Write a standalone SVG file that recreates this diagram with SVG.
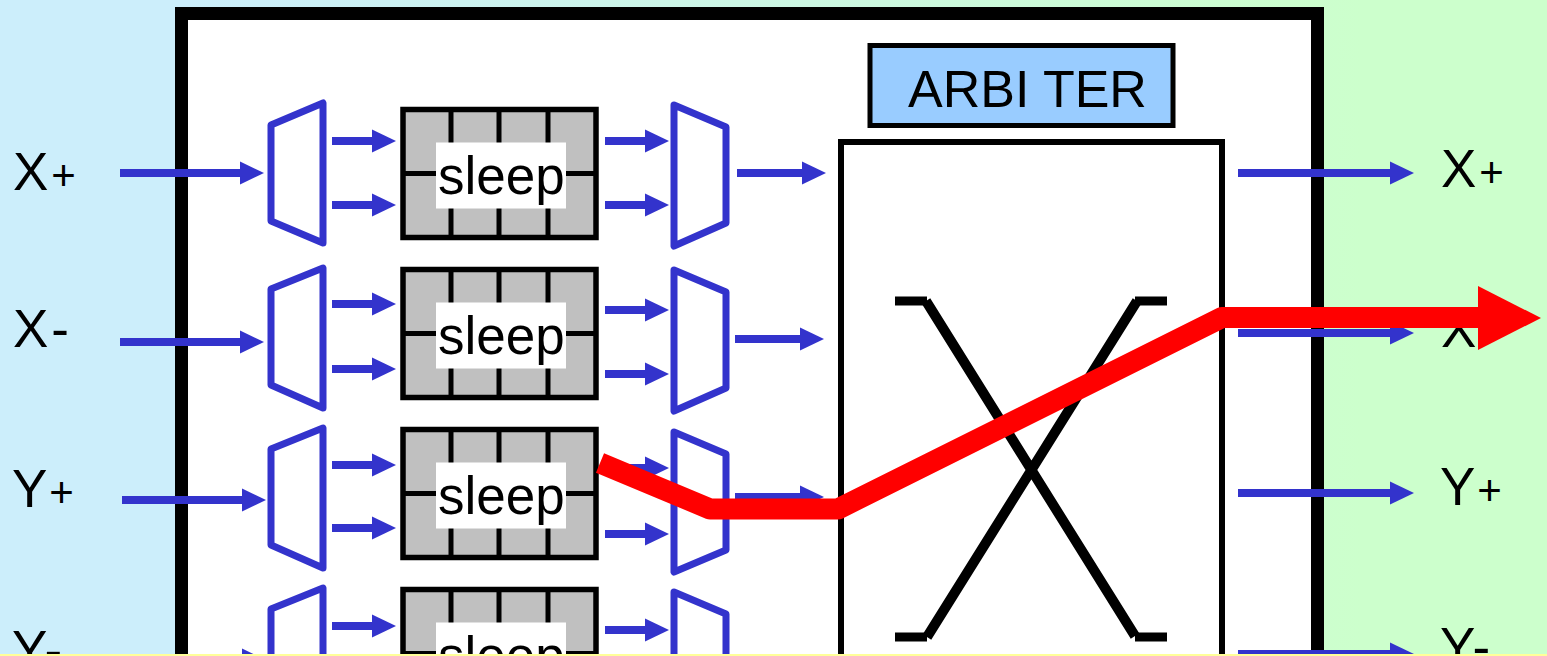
<svg xmlns="http://www.w3.org/2000/svg" width="1547" height="656" viewBox="0 0 1547 656">
<style>
text{font-family:"Liberation Sans",Arial,sans-serif;font-size:53px;fill:#000}
.sub{font-size:42px}
.mux{fill:#fff;stroke:#3333cc;stroke-width:7;stroke-linejoin:round}
.cell{fill:#c0c0c0;stroke:#000;stroke-width:5.5}
.div{stroke:#000;stroke-width:5;fill:none}
.blank{fill:#fff;stroke:none}
.arr{stroke:#3333cc;stroke-width:8;fill:none;marker-end:url(#bh)}
.x{stroke:#000;stroke-width:10;fill:none}
.stub{stroke:#000;stroke-width:9;fill:none}
</style>
<defs>
<linearGradient id="bg" x1="0" x2="1" y1="0" y2="0"><stop offset="0" stop-color="#cceefb"/><stop offset="0.12" stop-color="#cceefb"/><stop offset="0.88" stop-color="#ccffcc"/><stop offset="1" stop-color="#ccffcc"/></linearGradient>
<marker id="bh" markerUnits="userSpaceOnUse" markerWidth="24" markerHeight="24" refX="0" refY="12" orient="auto"><path d="M0 0.500L24 12L0 23.500Z" fill="#3333cc"/></marker>
<g id="buf">
<rect class="cell" x="403" y="0" width="193" height="128"/>
<path class="div" d="M451 0V128M499 0V128M548 0V128M403 64H596"/>
<rect class="blank" x="436" y="33" width="130" height="66"/>
<text x="438" y="84">sleep</text>
</g>
</defs>
<rect width="1547" height="656" fill="url(#bg)"/>
<rect id="frame" x="181.500" y="13.500" width="1136" height="700" fill="#fff" stroke="#000" stroke-width="13"/>

<g id="arbiter"><rect x="870" y="45.500" width="303" height="80" fill="#99ccff" stroke="#000" stroke-width="5"/><text x="908" y="107" style="font-size:52px">ARBI TER</text></g>
<g id="crossbar">
<rect x="841" y="142" width="381" height="560" fill="#fff" stroke="#000" stroke-width="6"/>
<path class="x" d="M926 301L1135 636M1137 301L927 637"/>
<path class="stub" d="M895 301H927M1135 301H1167M895 637H927M1135 637H1167"/>
</g>

<g id="buffer-xp"><use href="#buf" y="109.500"/></g>
<g id="buffer-xm"><use href="#buf" y="269.500"/></g>
<g id="buffer-yp"><use href="#buf" y="429.500"/></g>
<g id="buffer-ym"><use href="#buf" y="589.500"/></g>

<g id="demux-xp"><path class="mux" d="M271 125L323 103V243L271 221Z"/></g>
<g id="demux-xm"><path class="mux" d="M271 289L323 268V408L271 385Z"/></g>
<g id="demux-yp"><path class="mux" d="M271 449L323 428V568L271 545Z"/></g>
<g id="demux-ym"><path class="mux" d="M271 609L323 588V728L271 705Z"/></g>
<g id="mux-xp"><path class="mux" d="M674 105L726 127V223L674 246Z"/></g>
<g id="mux-xm"><path class="mux" d="M674 270L726 292V388L674 411Z"/></g>
<g id="mux-yp"><path class="mux" d="M674 432L726 454V550L674 572Z"/></g>
<g id="mux-ym"><path class="mux" d="M674 592L726 614V710L674 732Z"/></g>

<g id="connectors">
<path class="arr" d="M120 173H240"/><path class="arr" d="M120 342H240"/><path class="arr" d="M122 500H242"/><path class="arr" d="M122 660H242"/>
<path class="arr" d="M332 141H372"/><path class="arr" d="M332 205H372"/><path class="arr" d="M332 304H372"/><path class="arr" d="M332 369H372"/><path class="arr" d="M332 465H372"/><path class="arr" d="M332 528H372"/><path class="arr" d="M332 626H372"/>
<path class="arr" d="M605 141H645"/><path class="arr" d="M605 205H645"/><path class="arr" d="M605 310H645"/><path class="arr" d="M605 374H645"/><path class="arr" d="M605 468H645"/><path class="arr" d="M605 534H645"/><path class="arr" d="M605 630H645"/>
<path class="arr" d="M737 173H802"/><path class="arr" d="M735 339H800"/><path class="arr" d="M735 497H800"/>
<path class="arr" d="M1238 173H1390"/><path class="arr" d="M1238 333H1390"/><path class="arr" d="M1238 493H1390"/><path class="arr" d="M1238 654H1390"/>
</g>

<g id="label-in-xp"><text x="13" y="190">X<tspan class="sub" dx="3">+</tspan></text></g>
<g id="label-in-xm"><text x="13" y="347">X<tspan dx="3">-</tspan></text></g>
<g id="label-in-yp"><text x="12" y="507">Y<tspan class="sub" dx="2">+</tspan></text></g>
<g id="label-in-ym"><text x="12" y="668">Y<tspan dx="2">-</tspan></text></g>
<g id="label-out-xp"><text x="1441" y="187">X<tspan class="sub" dx="3">+</tspan></text></g>
<g id="label-out-xm"><text x="1441" y="347">X<tspan dx="3">-</tspan></text></g>
<g id="label-out-yp"><text x="1440" y="505">Y<tspan class="sub" dx="2">+</tspan></text></g>
<g id="label-out-ym"><text x="1440" y="665">Y<tspan dx="2">-</tspan></text></g>

<g id="route">
<path d="M600 463L710 509H838L1222 317.500H1480" fill="none" stroke="#ff0000" stroke-width="21" stroke-linejoin="round"/>
<path d="M1478 286L1541 318L1478 350Z" fill="#ff0000"/>
</g>
<rect id="bottom-strip" y="654" width="1547" height="2" fill="#ffff99"/>
</svg>
